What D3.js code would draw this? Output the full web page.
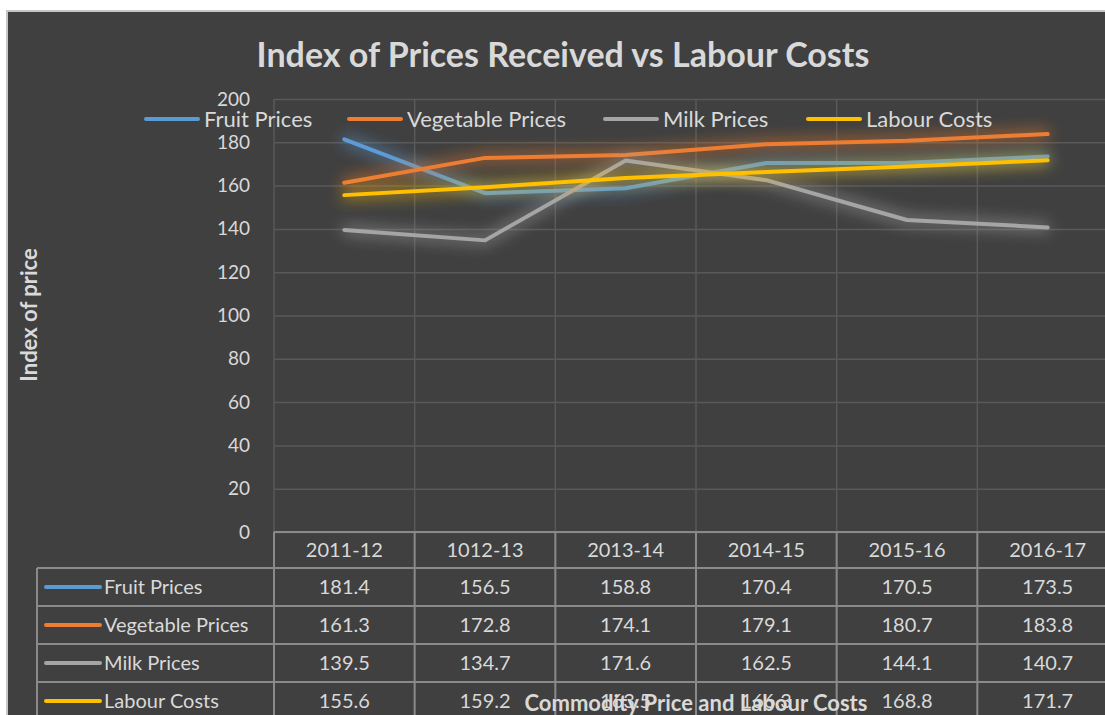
<!DOCTYPE html>
<html>
<head>
<meta charset="utf-8">
<script src="https://cdn.jsdelivr.net/npm/d3@7"></script>
<style>
  body { margin: 0; background: #ffffff; }
  svg { display: block; font-family: "Lato", "Open Sans", sans-serif; }
</style>
</head>
<body>
<div id="vis"></div>
<script>
// data
const CATEGORIES = ["2011-12", "1012-13", "2013-14", "2014-15", "2015-16", "2016-17"];
const SERIES_NAMES = ["Fruit Prices", "Vegetable Prices", "Milk Prices", "Labour Costs"];
const FRUIT = [181.4, 156.5, 158.8, 170.4, 170.5, 173.5];
const VEGETABLE = [161.3, 172.8, 174.1, 179.1, 180.7, 183.8];
const MILK = [139.5, 134.7, 171.6, 162.5, 144.1, 140.7];
const LABOUR = [155.6, 159.2, 163.5, 166.3, 168.8, 171.7];
const Y_TICKS = [0, 20, 40, 60, 80, 100, 120, 140, 160, 180, 200];
const COLORS = ["#5b9bd5", "#ed7d31", "#a5a5a5", "#ffc000"];

// frame constants
const FRAME_WIDTH = 1105;
const FRAME_HEIGHT = 715;
const PLOT = {left: 274, right: 1118, top: 99, bottom: 532};
const ROW_H = 38;
const HEADER_H = 36;
const LEGEND_COL_LEFT = 37;
const TEXT_COLOR = "#d9d9d9";
const TABLE_LINE = "#8a8a8a";
const GRID_LINE = "#595959";

const SERIES = [FRUIT, VEGETABLE, MILK, LABOUR].map((vals, i) => {
  return {name: SERIES_NAMES[i], values: vals, color: COLORS[i]};
});

const FRAME = d3.select("#vis")
  .append("svg")
  .attr("width", FRAME_WIDTH)
  .attr("height", FRAME_HEIGHT);

// soft glow filter for the lines
const DEFS = FRAME.append("defs");
const GLOW = DEFS.append("filter")
  .attr("id", "glow")
  .attr("x", "-20%").attr("y", "-50%")
  .attr("width", "140%").attr("height", "200%");
GLOW.append("feGaussianBlur")
  .attr("in", "SourceGraphic")
  .attr("stdDeviation", 8)
  .attr("result", "blur");
GLOW.append("feComponentTransfer")
  .attr("in", "blur")
  .attr("result", "soft")
  .append("feFuncA").attr("type", "linear").attr("slope", 1.4);
const MERGE = GLOW.append("feMerge");
MERGE.append("feMergeNode").attr("in", "soft");
MERGE.append("feMergeNode").attr("in", "SourceGraphic");

// chart background
FRAME.append("rect")
  .attr("x", 7).attr("y", 11)
  .attr("width", FRAME_WIDTH).attr("height", FRAME_HEIGHT)
  .attr("fill", "#404040")
  .attr("stroke", "#c6c6c6")
  .attr("stroke-width", 2);

// scales
const X_SCALE = d3.scaleBand()
  .domain(CATEGORIES)
  .range([PLOT.left, PLOT.right])
  .padding(0);

const Y_SCALE = d3.scaleLinear()
  .domain([0, 200])
  .range([PLOT.bottom, PLOT.top]);

const xMid = (c) => X_SCALE(c) + X_SCALE.bandwidth() / 2;

// horizontal gridlines
FRAME.append("g")
  .attr("transform", "translate(" + PLOT.left + ",0)")
  .call(d3.axisLeft(Y_SCALE).tickValues(Y_TICKS).tickSize(-(PLOT.right - PLOT.left)).tickFormat(""))
  .call(g => g.select(".domain").remove())
  .call(g => g.selectAll("line").attr("stroke", GRID_LINE).attr("stroke-width", 1.5));

// vertical gridlines between categories
FRAME.append("g")
  .selectAll("line")
  .data(CATEGORIES)
  .enter()
  .append("line")
  .attr("x1", (d) => X_SCALE(d))
  .attr("x2", (d) => X_SCALE(d))
  .attr("y1", PLOT.top)
  .attr("y2", PLOT.bottom)
  .attr("stroke", GRID_LINE)
  .attr("stroke-width", 1.5);

// y axis labels
FRAME.append("g")
  .attr("transform", "translate(" + (PLOT.left - 24) + ",0)")
  .call(d3.axisLeft(Y_SCALE).tickValues(Y_TICKS).tickSize(0).tickPadding(0))
  .call(g => g.select(".domain").remove())
  .call(g => g.selectAll("text")
    .attr("fill", TEXT_COLOR)
    .attr("font-size", "19px")
    .attr("font-family", "Lato, sans-serif"));

// lines
const LINE = d3.line()
  .x((d, i) => xMid(CATEGORIES[i]))
  .y((d) => Y_SCALE(d));

FRAME.append("g")
  .selectAll("path")
  .data(SERIES)
  .enter()
  .append("path")
  .attr("d", (d) => LINE(d.values))
  .attr("fill", "none")
  .attr("stroke", (d) => d.color)
  .attr("stroke-width", 4)
  .attr("stroke-linecap", "round")
  .attr("stroke-linejoin", "round")
  .attr("filter", "url(#glow)");

// data table
const TABLE = FRAME.append("g");
const tableBottom = PLOT.bottom + HEADER_H + ROW_H * SERIES.length;

TABLE.append("line")
  .attr("x1", PLOT.left).attr("x2", PLOT.right)
  .attr("y1", PLOT.bottom).attr("y2", PLOT.bottom)
  .attr("stroke", TABLE_LINE).attr("stroke-width", 2);

// row lines
SERIES.forEach((s, i) => {
  const y = PLOT.bottom + HEADER_H + ROW_H * i;
  TABLE.append("line")
    .attr("x1", LEGEND_COL_LEFT).attr("x2", PLOT.right)
    .attr("y1", y).attr("y2", y)
    .attr("stroke", TABLE_LINE).attr("stroke-width", 2);
});

// column lines
CATEGORIES.forEach((c) => {
  TABLE.append("line")
    .attr("x1", X_SCALE(c)).attr("x2", X_SCALE(c))
    .attr("y1", PLOT.bottom).attr("y2", tableBottom)
    .attr("stroke", TABLE_LINE).attr("stroke-width", 2);
});
TABLE.append("line")
  .attr("x1", LEGEND_COL_LEFT).attr("x2", LEGEND_COL_LEFT)
  .attr("y1", PLOT.bottom + HEADER_H).attr("y2", tableBottom)
  .attr("stroke", TABLE_LINE).attr("stroke-width", 2);

// header labels
TABLE.selectAll(".cat")
  .data(CATEGORIES)
  .enter()
  .append("text")
  .attr("x", (d) => xMid(d))
  .attr("y", PLOT.bottom + HEADER_H / 2 + 7)
  .attr("text-anchor", "middle")
  .attr("fill", TEXT_COLOR)
  .attr("font-size", "20px")
  .text((d) => d);

// table rows
SERIES.forEach((s, i) => {
  const yMid = PLOT.bottom + HEADER_H + ROW_H * i + ROW_H / 2;
  TABLE.append("line")
    .attr("x1", 46).attr("x2", 100)
    .attr("y1", yMid).attr("y2", yMid)
    .attr("stroke", s.color)
    .attr("stroke-width", 4)
    .attr("stroke-linecap", "round");
  TABLE.append("text")
    .attr("x", 104)
    .attr("y", yMid + 7)
    .attr("fill", TEXT_COLOR)
    .attr("font-size", "20px")
    .text(s.name);
  TABLE.selectAll(".v" + i)
    .data(s.values)
    .enter()
    .append("text")
    .attr("x", (d, j) => xMid(CATEGORIES[j]))
    .attr("y", yMid + 7)
    .attr("text-anchor", "middle")
    .attr("fill", TEXT_COLOR)
    .attr("font-size", "20px")
    .text((d) => d.toFixed(1));
});

// legend on top
const LEGEND_X = [146, 349, 605, 808];
const LEGEND = FRAME.append("g");
SERIES.forEach((s, i) => {
  LEGEND.append("line")
    .attr("x1", LEGEND_X[i]).attr("x2", LEGEND_X[i] + 52)
    .attr("y1", 119).attr("y2", 119)
    .attr("stroke", s.color)
    .attr("stroke-width", 4)
    .attr("stroke-linecap", "round");
  LEGEND.append("text")
    .attr("x", LEGEND_X[i] + 58)
    .attr("y", 127)
    .attr("fill", TEXT_COLOR)
    .attr("font-size", "22px")
    .text(s.name);
});

// title
FRAME.append("text")
  .attr("x", 563)
  .attr("y", 67)
  .attr("text-anchor", "middle")
  .attr("fill", TEXT_COLOR)
  .attr("font-size", "34px")
  .attr("font-weight", "bold")
  .text("Index of Prices Received vs Labour Costs");

// y axis title
FRAME.append("text")
  .attr("transform", "translate(37,315) rotate(-90)")
  .attr("text-anchor", "middle")
  .attr("fill", TEXT_COLOR)
  .attr("font-size", "22px")
  .attr("font-weight", "bold")
  .text("Index of price");

// x axis title
FRAME.append("text")
  .attr("x", (PLOT.left + PLOT.right) / 2)
  .attr("y", 711)
  .attr("text-anchor", "middle")
  .attr("fill", TEXT_COLOR)
  .attr("font-size", "22px")
  .attr("font-weight", "bold")
  .text("Commodity Price and Labour Costs");
</script>
</body>
</html>
